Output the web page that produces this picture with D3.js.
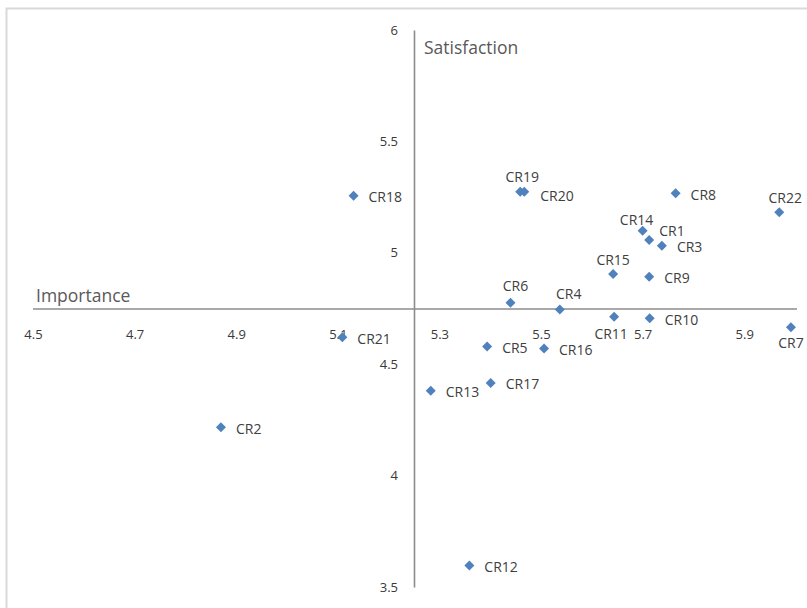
<!DOCTYPE html>
<html>
<head>
<meta charset="utf-8">
<script src="https://cdn.jsdelivr.net/npm/d3@7"></script>
<style>
  html, body { margin: 0; padding: 0; background: #fff; }
  svg { display: block; font-family: "Open Sans", "Noto Sans", sans-serif; }
</style>
</head>
<body>
<svg id="chart" width="807" height="608"></svg>
<script>
// ---- data ----
const names = ["CR1","CR2","CR3","CR4","CR5","CR6","CR7","CR8","CR9","CR10","CR11",
               "CR12","CR13","CR14","CR15","CR16","CR17","CR18","CR19","CR20","CR21","CR22"];
const importance = [5.713, 4.870, 5.738, 5.537, 5.394, 5.440, 5.992, 5.765, 5.713, 5.714, 5.644,
                    5.359, 5.283, 5.700, 5.642, 5.506, 5.401, 5.131, 5.459, 5.467, 5.109, 5.969];
const satisfaction = [5.057, 4.217, 5.032, 4.745, 4.579, 4.776, 4.666, 5.267, 4.893, 4.706, 4.713,
                      3.596, 4.381, 5.099, 4.905, 4.571, 4.416, 5.256, 5.274, 5.274, 4.621, 5.182];
const xTicks = [4.5, 4.7, 4.9, 5.1, 5.3, 5.5, 5.7, 5.9];
const yTicks = [3.5, 4, 4.5, 5, 5.5, 6];
const xTitle = "Importance";
const yTitle = "Satisfaction";
const xCross = 5.25;   // value where the vertical axis crosses
const yCross = 4.75;   // value where the horizontal axis crosses

// ---- label placement (style) ----
const labelPlace = {
  CR1:  {a: "start",  dx: 10, dy: -10},
  CR4:  {a: "middle", dx: 9,  dy: -16},
  CR6:  {a: "middle", dx: 5,  dy: -17},
  CR7:  {a: "middle", dx: 0,  dy: 15},
  CR11: {a: "middle", dx: -3, dy: 17},
  CR14: {a: "middle", dx: -6, dy: -11},
  CR15: {a: "middle", dx: 0,  dy: -14},
  CR19: {a: "middle", dx: 2,  dy: -15},
  CR20: {a: "start",  dx: 16, dy: 4},
  CR22: {a: "middle", dx: 6,  dy: -15}
};
const defaultPlace = {a: "start", dx: 15, dy: 1};

const data = names.map((n, i) => ({name: n, x: importance[i], y: satisfaction[i]}));

const svg = d3.select("#chart");

// chart frame
svg.append("rect")
  .attr("x", 6.5).attr("y", 8.5).attr("width", 830).attr("height", 640)
  .attr("fill", "none").attr("stroke", "#d9d9d9").attr("stroke-width", 2);

const x = d3.scaleLinear().domain([4.5, 6.0]).range([33, 795]);
const y = d3.scaleLinear().domain([3.5, 6.0]).range([587, 30]);

const fmt = v => String(+v.toFixed(1));

// horizontal axis
const gx = svg.append("g")
  .attr("transform", `translate(0,${y(yCross)})`)
  .call(d3.axisBottom(x).tickValues(xTicks).tickFormat(fmt).tickSize(0).tickPadding(21));
gx.select(".domain").attr("stroke", "#8c8c8c").attr("stroke-width", 1.6)
  .attr("d", `M${x(4.5)},0.5H${x(6.0) + 2}`);
gx.selectAll(".tick text").attr("fill", "#3a3a3a").attr("font-size", 13)
  .attr("font-family", "Open Sans, sans-serif");

// vertical axis
const gy = svg.append("g")
  .attr("transform", `translate(${x(xCross)},0)`)
  .call(d3.axisLeft(y).tickValues(yTicks).tickFormat(fmt).tickSize(0).tickPadding(16));
gy.select(".domain").attr("stroke", "#8c8c8c").attr("stroke-width", 1.6);
gy.selectAll(".tick text").attr("fill", "#3a3a3a").attr("font-size", 13)
  .attr("font-family", "Open Sans, sans-serif");

// axis titles
svg.append("text").attr("x", 36).attr("y", 295).attr("dominant-baseline", "central")
  .attr("font-size", 17.5).attr("fill", "#595959").text(xTitle);
svg.append("text").attr("x", 424).attr("y", 47).attr("dominant-baseline", "central")
  .attr("font-size", 17.5).attr("fill", "#595959").text(yTitle);

// points
svg.append("g").selectAll("path").data(data).join("path")
  .attr("d", d3.symbol(d3.symbolSquare, 50)())
  .attr("transform", d => `translate(${x(d.x)},${y(d.y)}) rotate(45)`)
  .attr("fill", "#4f81bd");

// labels
svg.append("g").selectAll("text").data(data).join("text")
  .attr("x", d => x(d.x) + (labelPlace[d.name] || defaultPlace).dx)
  .attr("y", d => y(d.y) + (labelPlace[d.name] || defaultPlace).dy)
  .attr("text-anchor", d => (labelPlace[d.name] || defaultPlace).a)
  .attr("dominant-baseline", "central")
  .attr("font-size", 14).attr("fill", "#404040")
  .text(d => d.name);
</script>
</body>
</html>
